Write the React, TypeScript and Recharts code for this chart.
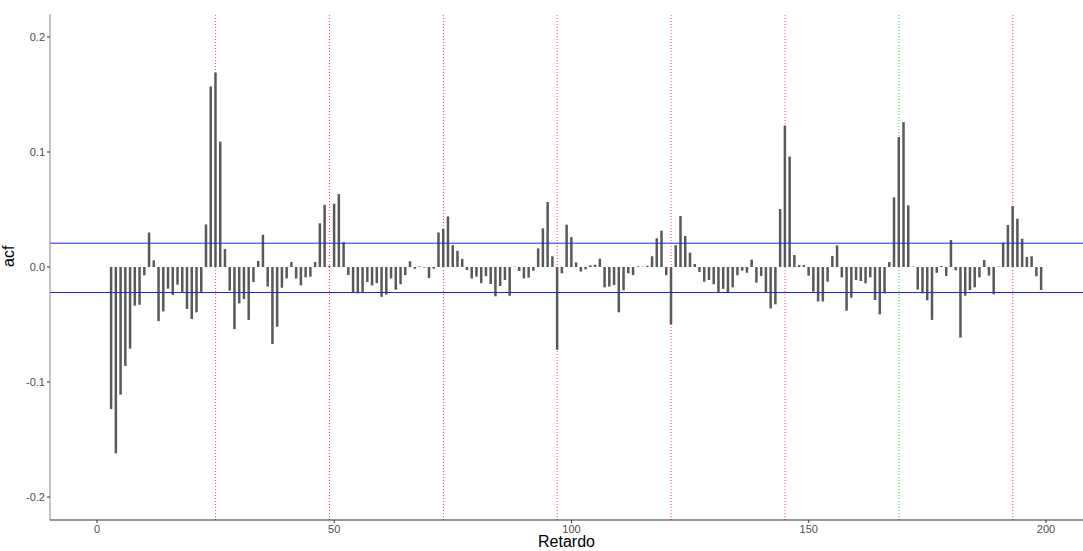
import { ComposedChart, Bar, XAxis, YAxis, ReferenceLine } from 'recharts';

// first lag shown in the plot; values below run consecutively from here
const firstLag = 3;

const acfValues = [
  -0.1235, -0.162, -0.111, -0.086, -0.071, -0.0336, -0.0328, -0.0072, 0.03, 0.0058,
  -0.047, -0.0386, -0.0188, -0.0243, -0.0154, -0.0223, -0.0365, -0.0452, -0.0394, -0.0217,
  0.037, 0.157, 0.169, 0.109, 0.0157, -0.0206, -0.054, -0.0316, -0.0278, -0.046,
  -0.013, 0.0052, 0.028, -0.017, -0.067, -0.0519, -0.018, -0.01, 0.0043, -0.01,
  -0.016, -0.009, -0.0084, 0.0043, 0.038, 0.054, 0.001, 0.055, 0.0635, 0.0215,
  -0.007, -0.022, -0.0229, -0.0217, -0.013, -0.016, -0.014, -0.026, -0.024, -0.01,
  -0.0197, -0.015, -0.007, 0.005, -0.0015, 0.0005, -0.0005, -0.0096, -0.0015, 0.03,
  0.033, 0.044, 0.019, 0.014, 0.007, -0.0026, -0.01, -0.0084, -0.014, -0.008,
  -0.0148, -0.0255, -0.0165, -0.0113, -0.025, 0.0003, -0.0035, -0.01, -0.0093, -0.0032,
  0.0162, 0.0336, 0.0565, 0.0093, -0.072, -0.0055, 0.0368, 0.026, 0.004, -0.004,
  -0.002, 0.0015, 0.002, 0.0072, -0.0177, -0.017, -0.0157, -0.0394, -0.0203, -0.0055,
  -0.007, 0.0006, 0.0003, 0.001, 0.0093, 0.025, 0.0316, -0.0072, -0.05, 0.019,
  0.0443, 0.027, 0.0125, 0.0026, -0.0043, -0.0128, -0.0113, -0.015, -0.022, -0.019,
  -0.0226, -0.0177, -0.0072, -0.0032, -0.005, 0.0064, -0.0136, -0.0078, -0.0223, -0.036,
  -0.0325, 0.0504, 0.123, 0.096, 0.0104, 0.0017, 0.0017, -0.0075, -0.0214, -0.03,
  -0.03, -0.0128, 0.0096, 0.0188, -0.009, -0.038, -0.0267, -0.0113, -0.0122, -0.0142,
  -0.009, -0.0287, -0.0412, -0.0229, 0.0043, 0.0606, 0.113, 0.126, 0.0536, 0.0003,
  -0.0197, -0.0229, -0.029, -0.046, -0.005, 0.0009, -0.0078, 0.0235, -0.0029, -0.0614,
  -0.025, -0.02, -0.0177, -0.009, 0.006, -0.0075, -0.0238, 0.0003, 0.0212, 0.0365,
  0.053, 0.042, 0.0246, 0.0087, 0.0093, -0.0081, -0.02,
];

const seasonalLags = [25, 49, 73, 97, 121, 145, 193];
const highlightLag = 169;
const confBound = 0.0213;

const xTicks = [0, 50, 100, 150, 200];
const yTicks = [-0.2, -0.1, 0, 0.1, 0.2];

const data = acfValues.map((acf, i) => ({ lag: firstLag + i, acf }));

const font = '"Liberation Sans", Arial, sans-serif';
const tickStyle = { fontSize: 11, fill: '#4d4d4d', fontFamily: font };

// blue horizontal rule, nudged within its pixel row
const blueRule = (nudge: number) => (props: any) => {
  const y = Math.ceil(props.y1) + nudge;
  return <line x1={props.x1} y1={y} x2={props.x2} y2={y} stroke="#2222ff" strokeWidth={1} />;
};

export default function App() {
  return (
    <div style={{ position: 'absolute', left: 0, top: 0, background: '#fff' }}>
      <ComposedChart
        width={1083}
        height={551}
        data={data}
        margin={{ top: 14, right: 0, bottom: 0, left: 0 }}
      >
        <XAxis
          dataKey="lag"
          type="number"
          domain={[-9.9, 207.8]}
          ticks={xTicks}
          allowDataOverflow
          height={31}
          tick={tickStyle}
          tickSize={3}
          tickLine={{ stroke: '#333' }}
          axisLine={{ stroke: '#333' }}
          label={{ value: 'Retardo', position: 'insideBottom', offset: 4, fontSize: 16, fill: '#000', fontFamily: font }}
        />
        <YAxis
          type="number"
          domain={[-0.22, 0.22]}
          ticks={yTicks}
          allowDataOverflow
          width={50}
          tick={tickStyle}
          tickSize={3}
          tickFormatter={(v: number) => v.toFixed(1)}
          tickLine={{ stroke: '#333' }}
          axisLine={{ stroke: '#888' }}
          label={{ value: 'acf', angle: -90, position: 'insideLeft', offset: 8, fontSize: 16, fill: '#000', fontFamily: font }}
        />
        {seasonalLags.map((l) => (
          <ReferenceLine key={'v' + l} x={l} stroke="#ff4d4d" strokeDasharray="1 2" strokeWidth={1} zIndex={100} />
        ))}
        <ReferenceLine x={highlightLag} stroke="#33dd33" strokeDasharray="1 2" strokeWidth={1} zIndex={100} />
        <Bar dataKey="acf" fill="#595959" barSize={2.5} isAnimationActive={false} />
        <ReferenceLine key="ci-up" y={confBound} stroke="#2222ff" shape={blueRule(0.2)} />
        <ReferenceLine key="ci-down" y={-confBound} stroke="#2222ff" shape={blueRule(0.5)} />
      </ComposedChart>
    </div>
  );
}
